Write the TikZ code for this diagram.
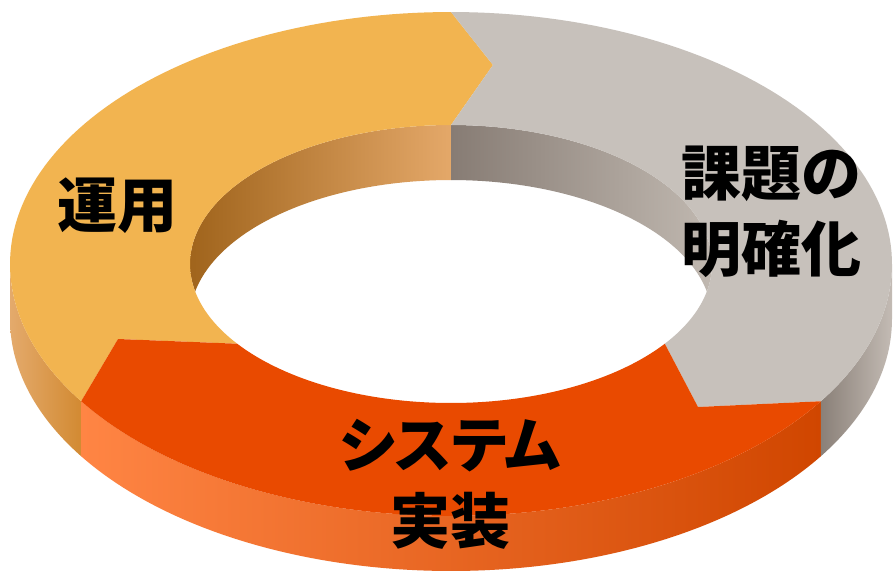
\documentclass[tikz,border=0pt]{standalone}
\usepackage{fontspec}
\newfontfamily\cjk{Noto Sans CJK JP}
\newfontfamily\cjkp{Noto Sans CJK JP}[RawFeature=+palt]
\definecolor{otop}{RGB}{242,180,80}
\definecolor{gtop}{RGB}{199,193,187}
\definecolor{rtop}{RGB}{233,74,0}
\definecolor{oside1}{RGB}{228,170,108}
\definecolor{oside2}{RGB}{210,138,50}
\definecolor{rside1}{RGB}{255,133,68}
\definecolor{rside2}{RGB}{240,112,45}
\definecolor{rside3}{RGB}{208,70,0}
\definecolor{gside1}{RGB}{138,128,120}
\definecolor{gside2}{RGB}{195,187,180}
\definecolor{oin1}{RGB}{160,100,28}
\definecolor{oin2}{RGB}{228,168,105}
\definecolor{gin1}{RGB}{135,124,116}
\definecolor{gin2}{RGB}{192,184,176}
\tikzset{
  lbl/.style={font=\cjk\bfseries\fontsize{60}{76}\selectfont, text=black, align=center, inner sep=0pt},
}
\begin{document}
\begin{tikzpicture}[x=1pt,y=-1pt]
\useasboundingbox[fill=white] (0,0) rectangle (894,571);
% outer side walls
\shade[left color=oside1,right color=oside2]
  plot[domain=147:180,samples=30] ({451+441*cos(\x)},{264+252*sin(\x)})
  -- plot[domain=180:147,samples=30] ({451+441*cos(\x)},{319+252*sin(\x)}) -- cycle;
\shade[left color=rside1,middle color=rside2,right color=rside3]
  plot[domain=33:147,samples=90] ({451+441*cos(\x)},{264+252*sin(\x)})
  -- plot[domain=147:33,samples=90] ({451+441*cos(\x)},{319+252*sin(\x)}) -- cycle;
\shade[left color=gside1,right color=gside2]
  plot[domain=0:33,samples=30] ({451+441*cos(\x)},{264+252*sin(\x)})
  -- plot[domain=33:0,samples=30] ({451+441*cos(\x)},{319+252*sin(\x)}) -- cycle;
% inner walls
\shade[left color=oin1,right color=oin2]
  plot[domain=168.6:270,samples=60] ({451+261*cos(\x)},{264+139*sin(\x)})
  -- plot[domain=270:191.4,samples=60] ({451+261*cos(\x)},{319+139*sin(\x)}) -- cycle;
\shade[left color=gin1,right color=gin2]
  plot[domain=270:371.4,samples=60] ({451+261*cos(\x)},{264+139*sin(\x)})
  -- plot[domain=348.6:270,samples=60] ({451+261*cos(\x)},{319+139*sin(\x)}) -- cycle;
% top faces
\fill[otop]
  plot[domain=147:270,samples=80] ({451+441*cos(\x)},{264+252*sin(\x)})
  -- (493,65)
  -- plot[domain=270:145,samples=80] ({451+261*cos(\x)},{264+139*sin(\x)})
  -- (118,339) -- cycle;
\fill[gtop]
  plot[domain=270:393,samples=80] ({451+441*cos(\x)},{264+252*sin(\x)})
  -- (698,407)
  -- plot[domain=395:270,samples=80] ({451+261*cos(\x)},{264+139*sin(\x)})
  -- (493,65) -- cycle;
\fill[rtop]
  plot[domain=33:147,samples=80] ({451+441*cos(\x)},{264+252*sin(\x)})
  -- (118,339)
  -- plot[domain=145:35,samples=80] ({451+261*cos(\x)},{264+139*sin(\x)})
  -- (698,407) -- cycle;
% labels
\node[lbl] (unyo) at (117,206) {運用};
\node[lbl] (kadai) at (771,212) {課題の\\明確化};
\node[lbl] (jisso) at (450,484) {{\cjkp\bfseries システム}\\実装};
\end{tikzpicture}
\end{document}
